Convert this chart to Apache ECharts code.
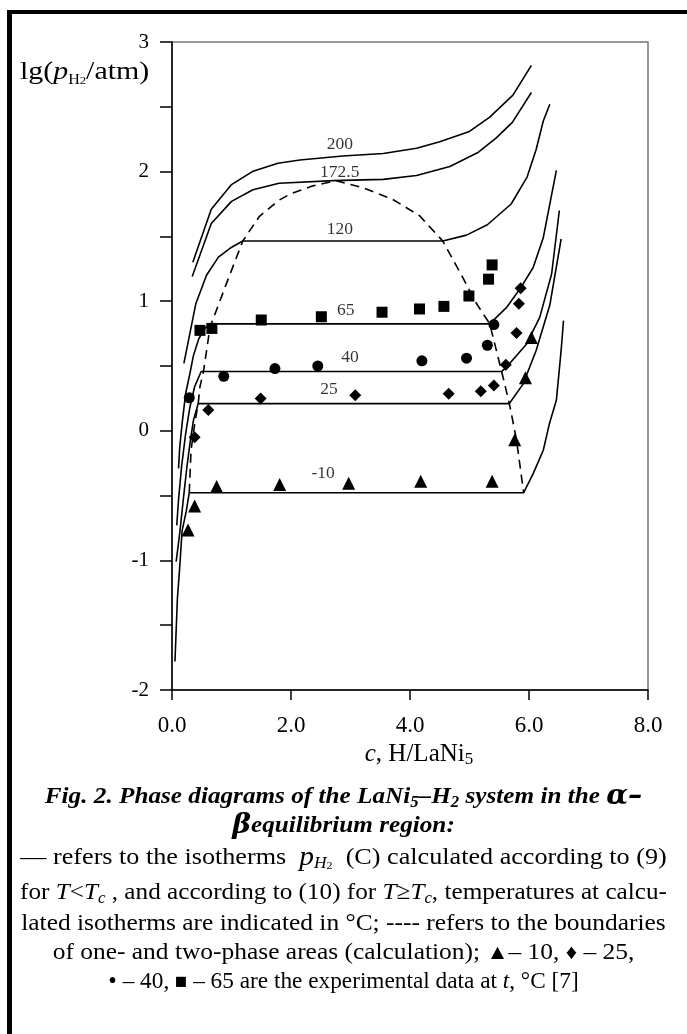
<!DOCTYPE html>
<html>
<head>
<meta charset="utf-8">
<script src="https://cdn.jsdelivr.net/npm/echarts@6/dist/echarts.min.js"></script>
<style>
  html, body { margin: 0; padding: 0; background: #fff; }
  #graph { width: 687px; height: 1034px; }
</style>
</head>
<body>
<div id="graph"></div>
<script>
// calculated isotherms, [c, lg p]
var iso200 = [[0.35,1.30],[0.66,1.71],[1.0,1.90],[1.35,2.0],[1.78,2.065],[2.15,2.09],[2.87,2.12],[3.55,2.14],[4.11,2.18],[4.5,2.23],[5.0,2.31],[5.34,2.42],[5.73,2.59],[6.04,2.82]];
var iso172 = [[0.34,1.19],[0.66,1.60],[1.0,1.77],[1.36,1.86],[1.8,1.91],[2.71,1.93],[3.55,1.94],[4.11,1.97],[4.67,2.04],[5.15,2.15],[5.45,2.26],[5.72,2.38],[6.04,2.61]];
var iso120 = [[0.20,0.52],[0.40,0.98],[0.58,1.20],[0.78,1.34],[0.98,1.41],[1.19,1.465],[4.55,1.465],[4.95,1.51],[5.3,1.59],[5.7,1.75],[5.97,1.96],[6.12,2.17],[6.24,2.39],[6.35,2.52]];
var iso65 = [[0.11,-0.29],[0.13,-0.125],[0.17,0.055],[0.23,0.29],[0.30,0.44],[0.36,0.58],[0.45,0.71],[0.55,0.79],[0.65,0.825],[5.34,0.825],[5.62,0.95],[5.87,1.11],[6.07,1.26],[6.24,1.49],[6.46,2.01]];
var iso40 = [[0.08,-0.73],[0.11,-0.53],[0.16,-0.28],[0.23,-0.02],[0.30,0.18],[0.38,0.34],[0.49,0.458],[5.54,0.458],[5.62,0.49],[5.96,0.67],[6.18,0.875],[6.38,1.21],[6.51,1.70]];
var iso25 = [[0.07,-1.01],[0.13,-0.79],[0.19,-0.53],[0.25,-0.28],[0.31,-0.07],[0.36,0.08],[0.44,0.21],[5.67,0.21],[5.90,0.36],[6.12,0.62],[6.35,0.97],[6.54,1.48]];
var isoM10 = [[0.05,-1.78],[0.09,-1.30],[0.13,-1.05],[0.17,-0.77],[0.24,-0.62],[0.29,-0.478],[5.91,-0.478],[6.07,-0.33],[6.24,-0.15],[6.34,0.05],[6.46,0.235],[6.54,0.62],[6.58,0.85]];

// boundary of one- and two-phase areas
var dome = [[0.29,-0.478],[0.32,-0.15],[0.38,0.05],[0.44,0.21],[0.47,0.34],[0.53,0.46],[0.63,0.77],[0.66,0.825],[0.91,1.13],[1.19,1.465],[1.47,1.655],[1.8,1.78],[2.0,1.83],[2.37,1.89],[2.76,1.93],[3.21,1.875],[3.71,1.785],[4.16,1.66],[4.55,1.465],[4.89,1.18],[5.12,0.98],[5.34,0.825],[5.54,0.458],[5.67,0.21],[5.79,-0.07],[5.91,-0.478]];

// experimental points
var expM10 = [[0.27,-0.765],[0.38,-0.58],[0.75,-0.43],[1.81,-0.415],[2.97,-0.405],[4.18,-0.39],[5.38,-0.39],[5.76,-0.07],[5.94,0.41],[6.04,0.72]];
var exp25 = [[0.38,-0.05],[0.61,0.16],[1.49,0.25],[3.08,0.275],[4.65,0.285],[5.19,0.305],[5.41,0.35],[5.61,0.51],[5.79,0.755],[5.83,0.98],[5.86,1.10]];
var exp40 = [[0.29,0.255],[0.87,0.42],[1.73,0.48],[2.45,0.50],[4.20,0.54],[4.95,0.56],[5.30,0.66],[5.41,0.82]];
var exp65 = [[0.47,0.775],[0.67,0.79],[1.50,0.855],[2.51,0.88],[3.53,0.915],[4.16,0.94],[4.57,0.96],[4.99,1.04],[5.32,1.17],[5.38,1.28]];

var isoNames = ['200', '172.5', '120', '65', '40', '25', '-10'];
var isoLabelAt = [[2.82,2.21],[2.82,1.99],[2.82,1.555],[2.92,0.93],[2.99,0.57],[2.64,0.32],[2.54,-0.33]];

var serif = '"Liberation Serif", "DejaVu Serif", serif';

var chart = echarts.init(document.getElementById('graph'));

function isoLine(data) {
    return {
        type: 'line', data: data, symbol: 'none', silent: true,
        lineStyle: { color: '#000', width: 1.6 }
    };
}
function points(data, symbol, size) {
    return {
        type: 'scatter', data: data, symbol: symbol, symbolSize: size,
        itemStyle: { color: '#000', opacity: 1 }
    };
}

var capB = { fontFamily: serif, fontSize: 24, lineHeight: 28, fontStyle: 'italic', fontWeight: 'bold' };
var capSub = { fontFamily: serif, fontSize: 16, lineHeight: 15, fontStyle: 'italic', fontWeight: 'bold', verticalAlign: 'bottom' };
var capG = { fontFamily: '"DejaVu Serif", serif', fontSize: 27, lineHeight: 28, fontStyle: 'italic', fontWeight: 'bold' };
var txt = { fontFamily: serif, fontSize: 24, lineHeight: 28 };
var txtI = { fontFamily: serif, fontSize: 24, lineHeight: 28, fontStyle: 'italic' };
var txtSI = { fontFamily: serif, fontSize: 16, lineHeight: 15, verticalAlign: 'bottom', fontStyle: 'italic' };
var glyph = { fontFamily: serif, fontSize: 21, lineHeight: 28 };
var glyphL = { fontFamily: serif, fontSize: 25, lineHeight: 28 };

function caption(y, text, rich, sx) {
    return {
        type: 'text', x: 343.5, y: y, scaleX: sx,
        style: { text: text, rich: rich, align: 'center', verticalAlign: 'middle', fill: '#000' }
    };
}

var option = {
    backgroundColor: '#fff',
    animation: false,
    grid: { left: 172, right: 39, top: 42, bottom: 344, show: true, borderColor: '#777', borderWidth: 1.5 },
    xAxis: {
        type: 'value', min: 0, max: 8, interval: 2,
        axisLine: { onZero: false, lineStyle: { color: '#000', width: 1.5 } },
        axisTick: { length: 10, lineStyle: { color: '#000', width: 1.5 } },
        splitLine: { show: false },
        axisLabel: { color: '#000', fontFamily: serif, fontSize: 23, margin: 24,
            formatter: function (v) { return v.toFixed(1); } },
        name: '{i|c}{n|, H/LaNi}{s|5}',
        nameLocation: 'middle', nameGap: 38,
        nameTextStyle: {
            padding: [0, 0, 0, 18],
            rich: {
                i: { fontFamily: serif, fontSize: 25, fontStyle: 'italic', color: '#000', lineHeight: 28 },
                n: { fontFamily: serif, fontSize: 25, color: '#000', lineHeight: 28 },
                s: { fontFamily: serif, fontSize: 17, color: '#000', verticalAlign: 'bottom', lineHeight: 19 }
            }
        }
    },
    yAxis: {
        type: 'value', min: -2, max: 3, interval: 0.5,
        axisLine: { onZero: false, lineStyle: { color: '#000', width: 1.5 } },
        axisTick: { length: 12, lineStyle: { color: '#000', width: 1.5 } },
        splitLine: { show: false },
        axisLabel: { color: '#000', fontFamily: serif, fontSize: 21, margin: 23,
            formatter: function (v) { return Math.round(v) === v ? String(v) : ''; } }
    },
    graphic: [
        { type: 'rect', shape: { x: 7, y: 10, width: 5, height: 1024 }, style: { fill: '#000' } },
        { type: 'rect', shape: { x: 7, y: 10, width: 680, height: 4 }, style: { fill: '#000' } },
        {
            type: 'text', x: 20, y: 72, scaleX: 1.15,
            style: {
                text: '{n|lg(}{i|p}{s|H}{ss|2}{n|/atm)}', verticalAlign: 'middle',
                rich: {
                    n: { fontFamily: serif, fontSize: 26, lineHeight: 30, fill: '#000' },
                    i: { fontFamily: serif, fontSize: 26, lineHeight: 30, fontStyle: 'italic', fill: '#000' },
                    s: { fontFamily: serif, fontSize: 14, lineHeight: 13, verticalAlign: 'bottom', fill: '#000' },
                    ss: { fontFamily: serif, fontSize: 11, lineHeight: 8, verticalAlign: 'bottom', fill: '#000' }
                }
            }
        },
        caption(797, '{b|Fig. 2. Phase diagrams of the LaNi}{s|5}{b|–H}{s|2}{b| system in the }{g|α–}',
            { b: capB, s: capSub, g: capG }, 1.05),
        caption(826, '{g|β}{b|equilibrium region:}', { b: capB, g: capG }, 1.05),
        caption(858, '{n|— refers to the isotherms  }{i|p}{si|H}{ss|2}{n|  (C) calculated according to (9)}', {
            n: txt, i: { fontFamily: serif, fontSize: 27, lineHeight: 28, fontStyle: 'italic' }, si: txtSI,
            ss: { fontFamily: serif, fontSize: 11, lineHeight: 8, verticalAlign: 'bottom' }
        }, 1.09),
        caption(893, '{n|for }{i|T}{n|<}{i|T}{s|c}{n| , and according to (10) for }{i|T}{n|≥}{i|T}{s|c}{n|, temperatures at calcu-}',
            { n: txt, i: txtI, s: txtSI }, 1.05),
        caption(924, '{n|lated isotherms are indicated in °C; ---- refers to the boundaries}', { n: txt }, 1.06),
        caption(953, '{n|of one- and two-phase areas (calculation); }{g|▲}{n|– 10, }{g|♦}{n| – 25,}', { n: txt, g: glyph }, 1.06),
        caption(982, '{l|•}{n| – 40, }{g|■}{n| – 65 are the experimental data at }{i|t}{n|, °C [7]}', { n: txt, i: txtI, g: glyph, l: glyphL }, 0.97)
    ],
    series: [
        isoLine(iso200), isoLine(iso172), isoLine(iso120), isoLine(iso65),
        isoLine(iso40), isoLine(iso25), isoLine(isoM10),
        {
            type: 'line', data: dome, symbol: 'none', silent: true,
            lineStyle: { color: '#000', width: 1.6, type: [9, 6] }
        },
        points(expM10, 'triangle', 13),
        points(exp25, 'diamond', 12),
        points(exp40, 'circle', 11),
        points(exp65, 'rect', 11),
        {
            type: 'scatter', symbolSize: 1, silent: true,
            itemStyle: { color: 'rgba(0,0,0,0)' },
            data: isoNames.map(function (n, i) { return { name: n, value: isoLabelAt[i] }; }),
            label: { show: true, position: 'inside', formatter: '{b}', color: '#000', fontFamily: serif, fontSize: 17.5 }
        }
    ]
};
chart.setOption(option);
</script>
</body>
</html>
